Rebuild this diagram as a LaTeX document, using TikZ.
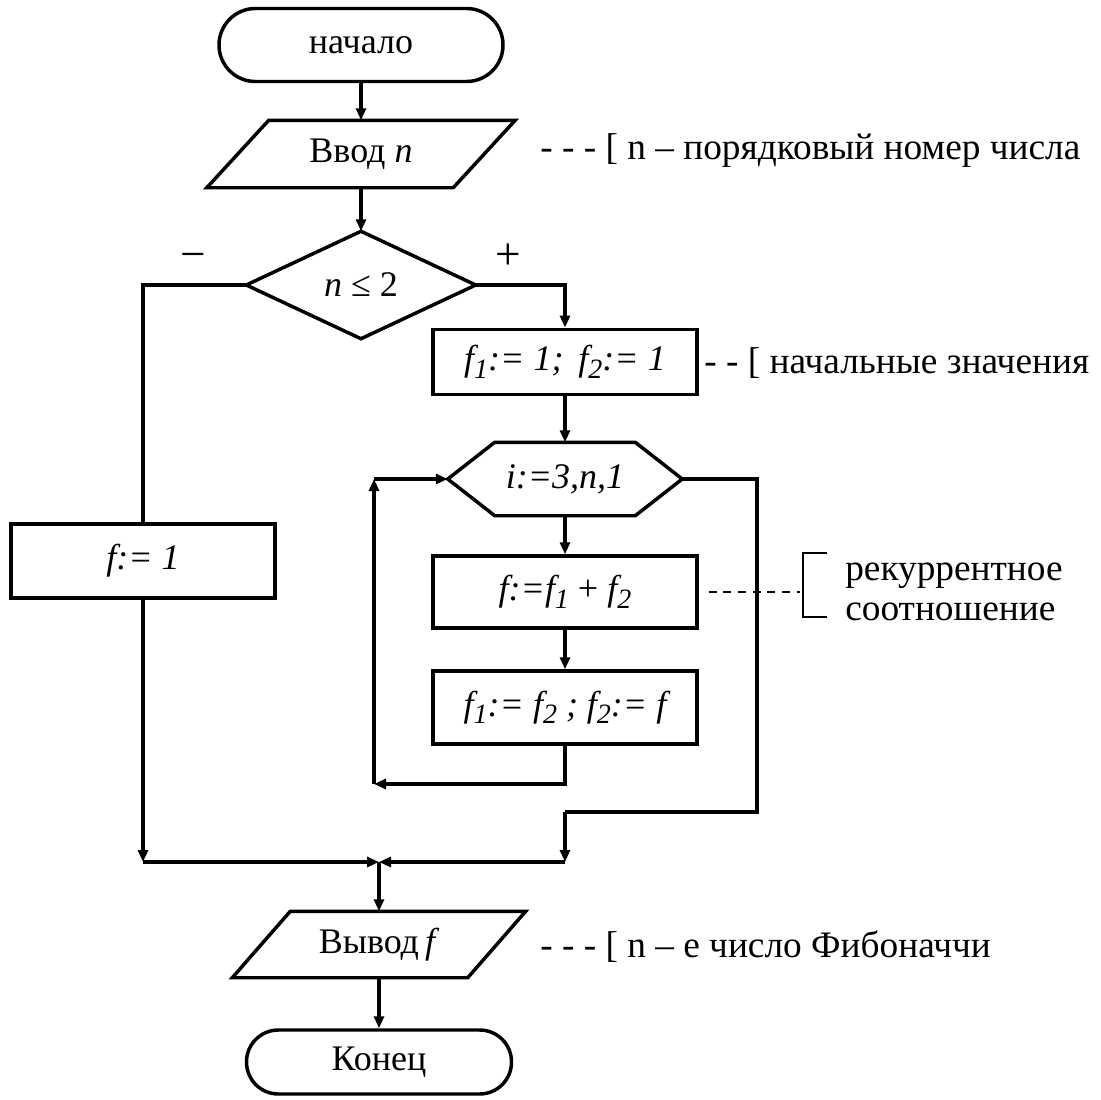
\documentclass[tikz,border=0pt]{standalone}
\usepackage{fontspec}
\setmainfont{Liberation Serif}
\usetikzlibrary{arrows.meta,calc}

% lowered small italic index, as in f_1
\newcommand\idx[1]{\raisebox{-0.45ex}{\fontsize{21}{21}\selectfont\itshape #1}}

\begin{document}
\begin{tikzpicture}[x=0.75pt,y=-0.75pt,
  every node/.style={font=\fontsize{27}{29}\selectfont},
  flow/.style={line width=2.6pt},
  arr/.style={flow,-{Triangle[length=9pt,width=7.5pt]}},
  outline/.style={line width=2.6pt, line join=miter},
  term/.style={draw, rectangle, line width=2.6pt, inner sep=0},
  box/.style={draw, rectangle, line width=2.6pt, inner sep=0,
              minimum width=198pt},
  holder/.style={rectangle, inner sep=0, outer sep=1.3pt},
  sign/.style={font=\fontsize{34}{34}\selectfont},
  note/.style={anchor=west, inner sep=0, font=\fontsize{28}{29.5}\selectfont}]

\useasboundingbox (0,0) rectangle (1101,1100);

% terminals and blocks
\node[term, minimum width=213pt, minimum height=54.75pt, rounded corners=27.3pt]
  (start) at (361,45) {начало};

\node[holder, minimum width=182.25pt, minimum height=48pt]
  (in) at (361,154) {Ввод \textit{n}};
\draw[outline] ($(in.north west)+(31,0)$) -- ($(in.north east)+(31,0)$)
  -- ($(in.south east)+(-31,0)$) -- ($(in.south west)+(-31,0)$) -- cycle;

\node[holder, minimum width=169.5pt, minimum height=78pt]
  (cond) at (361,285) {\textit{n} ≤ 2};
\draw[outline] (cond.north) -- (cond.east) -- (cond.south) -- (cond.west) -- cycle;

\node[box, minimum height=55.5pt] (fone) at (143,561) {\itshape f:= 1};

\node[box, minimum height=49pt] (init) at (565,362)
  {\itshape f\idx{1}:= 1;\, f\idx{2}:= 1};

\node[holder, minimum width=173.25pt, minimum height=52.5pt]
  (loop) at (565,479) {\itshape i:=3,n,1};
\draw[outline] (loop.west) -- ($(loop.north west)+(47,0)$)
  -- ($(loop.north east)+(-47,0)$) -- (loop.east)
  -- ($(loop.south east)+(-47,0)$) -- ($(loop.south west)+(47,0)$) -- cycle;

\node[box, minimum height=54pt] (sum) at (565,592)
  {\itshape f:=f\idx{1}\upshape{} + \itshape f\idx{2}};

\node[box, minimum height=54.75pt] (shift) at (565,707.5)
  {\itshape f\idx{1}:= f\idx{2} ; f\idx{2}:= f};

\node[holder, minimum width=174pt, minimum height=47.25pt]
  (out) at (379,944.5) {Вывод\,\textit{f}};
\draw[outline] ($(out.north west)+(29,0)$) -- ($(out.north east)+(29,0)$)
  -- ($(out.south east)+(-29,0)$) -- ($(out.south west)+(-29,0)$) -- cycle;

\node[term, minimum width=198.75pt, minimum height=48pt, rounded corners=23.9pt]
  (end) at (379,1062) {Конец};

% branch signs
\node[sign] (minus) at (193,261) {−};
\node[sign] (plus) at (508,257) {+};

% junction points
\coordinate (m) at (379,862);
\coordinate (ljoin) at (fone.south |- m);
\coordinate (rturn) at (757,812);
\coordinate (rdrop) at (loop.south |- rturn);
\coordinate (rjoin) at (loop.south |- m);
\coordinate (back) at (374,784);
\coordinate (backtop) at (back |- loop.west);

% connectors
\draw[arr] (start) -- (in);
\draw[arr] (in) -- (cond);
\draw[flow] (cond.west) -| (fone.north);
\draw[arr] (cond.east) -| (init.north);
\draw[arr] (init) -- (loop);
\draw[arr] (loop) -- (sum);
\draw[arr] (sum) -- (shift);
\draw[arr] (shift.south) |- (back);
\draw[arr] (back) -- (backtop);
\draw[arr] (backtop) -- (loop.west);
\draw[flow] (loop.east) -| (rturn) -- (rdrop);
\draw[arr] (rdrop) -- (rjoin);
\draw[arr] (rjoin) -- (m);
\draw[arr] (fone.south) -- (ljoin);
\draw[arr] (ljoin) -- (m);
\draw[arr] (m) -- (out);
\draw[arr] (out) -- (end);

% comments
\node[note] (n1) at (540,151) {- - - [ n – порядковый номер числа};
\node[note] (n2) at (704,363) {- - [ начальные значения};
\node[note] (n3) at (540,947) {- - - [ n – е число Фибоначчи};
\node[note, align=left] (n4) at (845,592) {рекуррентное\\соотношение};
\draw[line width=1.1pt] (827,553) -- (803,553) -- (803,617) -- (827,617);
\draw[line width=1.3pt, dash pattern=on 6pt off 5pt]
  ($(sum.east)+(10,0)$) -- (800,592);

\end{tikzpicture}
\end{document}
